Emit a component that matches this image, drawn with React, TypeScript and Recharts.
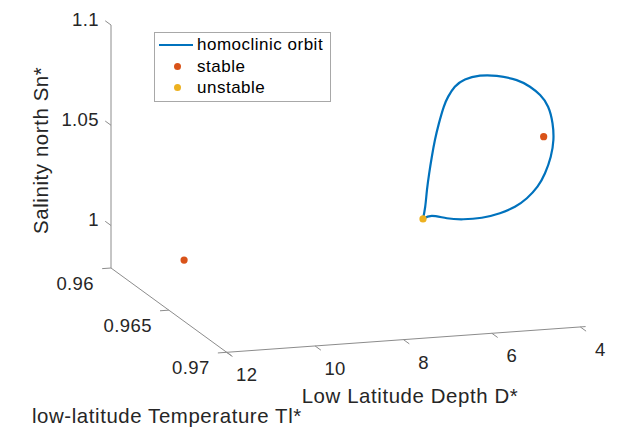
import { ScatterChart, Scatter, XAxis, YAxis, ReferenceLine, ReferenceDot, Legend } from 'recharts'

const W = 618
const H = 428
const FONT = '"Liberation Sans", Arial, Helvetica, sans-serif'
const INK = '#262626'
const AXIS = '#8c8c8c'
const BLUE = '#0072BD'
const RED = '#D95319'
const YELLOW = '#EDB120'

// homoclinic orbit: D* and Sn* along the loop (Tl* ~ 0.965)
const orbitTl = 0.965
const orbitD = [
  6.25, 6.2, 6.16, 6.11, 6.05, 5.98, 5.89, 5.78, 5.68, 5.53, 5.3, 4.96, 4.58, 4.13, 3.83,
  3.6, 3.42, 3.32, 3.3, 3.36, 3.49, 3.66, 3.9, 4.17, 4.51, 4.92, 5.34, 5.71, 6.05, 6.25,
]
const orbitSn = [
  1.0152, 1.0212, 1.0295, 1.0377, 1.0459, 1.0541, 1.0623, 1.0704, 1.0753, 1.08, 1.0833,
  1.0846, 1.0839, 1.0811, 1.0773, 1.0728, 1.0667, 1.0583, 1.0499, 1.0417, 1.0336, 1.0272,
  1.0218, 1.018, 1.0153, 1.0137, 1.0136, 1.0147, 1.0164, 1.0152,
]

// equilibria
const stableD = [10.87, 3.52]
const stableTl = [0.962, 0.965]
const stableSn = [0.9894, 1.0519]
const unstableD = [6.25]
const unstableTl = [0.965]
const unstableSn = [1.0152]

const snTicks = [1, 1.05, 1.1]
const tlTicks = [0.96, 0.965, 0.97]
const dTicks = [12, 10, 8, 6, 4]

const legendItems = [
  { name: 'homoclinic orbit', kind: 'line', color: BLUE },
  { name: 'stable', kind: 'dot', color: RED },
  { name: 'unstable', kind: 'dot', color: YELLOW },
]

// axis box limits
const dMax = 12
const dMin = 3.88
const tlMin = 0.96
const tlMax = 0.9704
const snMin = 0.9788
const snMax = 1.1

// fixed 3-D view (orthographic projection onto the page)
const view = { x0: 111, y0: 225.5, dX: 44.2, dY: -3.17, tX: 11570, tY: 8430, sY: 2005 }

const project = (d: number, tl: number, sn: number) => {
  const u = 12 - d
  const v = tl - 0.96
  const w = sn - 1
  return {
    x: view.x0 + view.dX * u + view.tX * v,
    y: view.y0 + view.dY * u + view.tY * v - view.sY * w,
  }
}

const orbit = orbitD.map((d, i) => project(d, orbitTl, orbitSn[i]))
const stable = stableD.map((d, i) => project(d, stableTl[i], stableSn[i]))
const unstable = unstableD.map((d, i) => project(d, unstableTl[i], unstableSn[i]))

const axisSegments = [
  [project(dMax, tlMin, snMin), project(dMax, tlMin, snMax)],
  [project(dMax, tlMin, snMin), project(dMax, tlMax, snMin)],
  [project(dMax, 0.97, snMin), project(dMin, 0.97, snMin)],
]

const tickSegments = [
  ...snTicks.map((s) => [project(dMax, tlMin, s), project(dMax, tlMin - 0.0005, s)]),
  ...tlTicks.map((t) => [project(dMax, t, snMin), project(dMax + 0.2, t, snMin)]),
  ...dTicks.map((d) => [project(d, 0.97, snMin), project(d, 0.9705, snMin)]),
]

const textLabel =
  (text: string, anchor: string, dx: number, dy: number, size: number, spacing: number, rotate = false) =>
  (props: any) => {
    const { x, y } = props.viewBox
    const tx = x + dx
    const ty = y + dy
    return (
      <text
        x={tx}
        y={ty}
        textAnchor={anchor}
        fill={INK}
        fontFamily={FONT}
        fontSize={size}
        letterSpacing={spacing}
        transform={rotate ? `rotate(-90, ${tx}, ${ty})` : undefined}
      >
        {text}
      </text>
    )
  }

const dot = (color: string) => (props: any) => <circle cx={props.cx} cy={props.cy} r={3.6} fill={color} />

const renderLegend = () => (
  <div
    style={{
      position: 'relative',
      width: 177,
      height: 70,
      boxSizing: 'border-box',
      border: '1px solid #a8a8a8',
      background: '#fff',
      fontFamily: FONT,
      fontSize: 17,
      letterSpacing: 0.5,
      color: '#000',
    }}
  >
    {legendItems.map((item, i) => (
      <div key={item.name} style={{ position: 'absolute', left: 0, top: 1 + i * 21.5, height: 21, width: 175 }}>
        {item.kind === 'line' ? (
          <div style={{ position: 'absolute', left: 4, top: 10, width: 34, height: 2, background: item.color }} />
        ) : (
          <div
            style={{ position: 'absolute', left: 18.5, top: 7, width: 7, height: 7, borderRadius: 4, background: item.color }}
          />
        )}
        <span style={{ position: 'absolute', left: 42, top: 0, lineHeight: '21px', whiteSpace: 'nowrap' }}>{item.name}</span>
      </div>
    ))}
  </div>
)

export default function App() {
  return (
    <div style={{ position: 'absolute', left: 0, top: 0, background: '#fff' }}>
      <ScatterChart width={W} height={H} margin={{ top: 0, right: 0, bottom: 0, left: 0 }}>
        <XAxis type="number" dataKey="x" domain={[0, W]} allowDataOverflow hide />
        <YAxis type="number" dataKey="y" domain={[0, H]} allowDataOverflow reversed hide />
        {axisSegments.map((seg, i) => (
          <ReferenceLine key={`ax${i}`} segment={seg} stroke={AXIS} strokeWidth={1} ifOverflow="visible" />
        ))}
        {tickSegments.map((seg, i) => (
          <ReferenceLine key={`tk${i}`} segment={seg} stroke={AXIS} strokeWidth={1} ifOverflow="visible" />
        ))}
        {snTicks.map((s) => {
          const p = project(dMax, tlMin, s)
          return (
            <ReferenceDot key={`sl${s}`} x={p.x} y={p.y} r={0} fill="none" stroke="none" ifOverflow="visible"
              label={textLabel(String(s), 'end', -12, 0.5, 18.5, 0.4)} />
          )
        })}
        {tlTicks.map((t) => {
          const p = project(dMax, t, snMin)
          return (
            <ReferenceDot key={`tl${t}`} x={p.x} y={p.y} r={0} fill="none" stroke="none" ifOverflow="visible"
              label={textLabel(String(t), 'end', -17, 21.5, 18.5, 0.4)} />
          )
        })}
        {dTicks.map((d) => {
          const p = project(d, 0.97, snMin)
          return (
            <ReferenceDot key={`dl${d}`} x={p.x} y={p.y} r={0} fill="none" stroke="none" ifOverflow="visible"
              label={textLabel(String(d), 'middle', 20, 29, 18.5, 0.4)} />
          )
        })}
        {(() => {
          const ps = project(dMax, tlMin, 1.04)
          const pd = project(8, 0.97, snMin)
          const pt = project(dMax, 0.965, snMin)
          return [
            <ReferenceDot key="tsn" x={ps.x} y={ps.y} r={0} fill="none" stroke="none" ifOverflow="visible"
              label={textLabel('Salinity north Sn*', 'middle', -63, 5, 20.4, 0.6, true)} />,
            <ReferenceDot key="td" x={pd.x} y={pd.y} r={0} fill="none" stroke="none" ifOverflow="visible"
              label={textLabel('Low Latitude Depth D*', 'middle', 6.5, 63, 20.4, 0.6)} />,
            <ReferenceDot key="ttl" x={pt.x} y={pt.y} r={0} fill="none" stroke="none" ifOverflow="visible"
              label={textLabel('low-latitude Temperature Tl*', 'middle', -2, 113, 20.4, 0.6)} />,
          ]
        })()}
        <Scatter
          name="homoclinic orbit"
          data={orbit}
          line={{ stroke: BLUE, strokeWidth: 2.2 }}
          lineJointType="natural"
          shape={() => <g />}
          isAnimationActive={false}
        />
        <Scatter name="stable" data={stable} shape={dot(RED)} isAnimationActive={false} />
        <Scatter name="unstable" data={unstable} shape={dot(YELLOW)} isAnimationActive={false} />
        <Legend
          layout="vertical"
          align="center"
          verticalAlign="middle"
          content={renderLegend}
          wrapperStyle={{ left: 154, top: 32, width: 177, height: 70 }}
        />
      </ScatterChart>
    </div>
  )
}
